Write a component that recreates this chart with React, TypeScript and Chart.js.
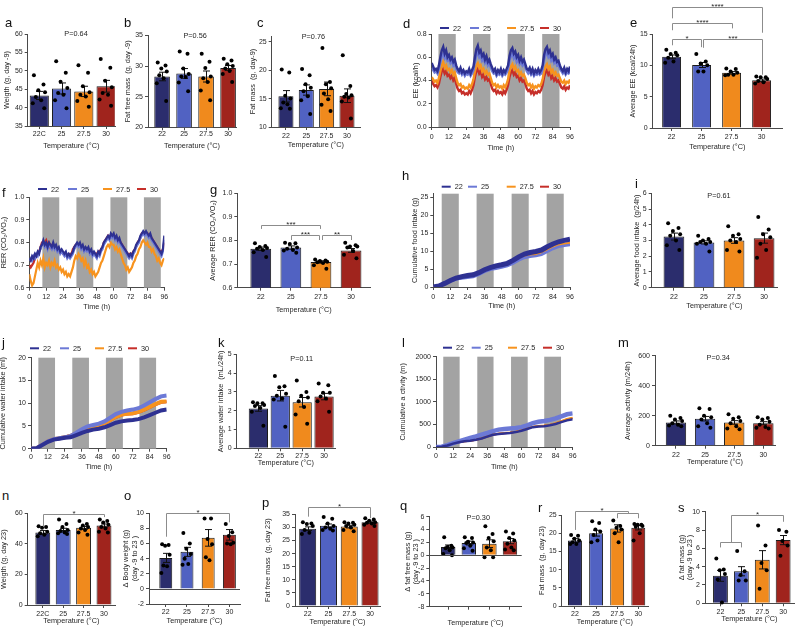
import React, { useEffect, useRef } from 'react';
import { Chart, registerables } from 'chart.js';

Chart.register(...registerables);

const FONT = '"Liberation Sans", Arial, Helvetica, sans-serif';
const TICK_SIZE = 7;
const TITLE_SIZE = 7.3;
const TL = TITLE_SIZE * 1.2;
const TICK_LH = TICK_SIZE * 1.2;
const AXIS = '#4a4a4a';
const TEXT = '#262626';
const BRACKET = '#8c8c8c';
const DARK = '#a3a3a3';

const TEMPS = ['22', '25', '27.5', '30'];
const TEMPS_C = ['22C', '25', '27.5', '30'];
const NO_LABELS = ['', '', '', ''];
const SERIES = ['22', '25', '27.5', '30'];
const BAR_COLORS = ['#2b2d6d', '#5162c2', '#f08a1d', '#a0241d'];
const LINE_COLORS = ['#2e3192', '#6c79d6', '#f7931e', '#c62f2a'];
const HOUR_TICKS = [0, 12, 24, 36, 48, 60, 72, 84, 96];
const JIT = [-0.28, 0.22, -0.05, 0.3, -0.18, 0.1, -0.34, 0.26];

// ---------- a ----------
const aYTicks = [35, 40, 45, 50, 55, 60];
const aMean = [43.3, 45.2, 44.4, 45.8];
const aSem = [1.1, 1.5, 1.4, 1.6];
const aDots = [
  [48.8, 46.3, 44.7, 44.2, 42.9, 42.0, 41.2, 39.8],
  [52.6, 49.5, 47.0, 45.3, 44.0, 43.5, 42.0, 39.8],
  [51.5, 49.5, 45.8, 44.2, 43.5, 43.0, 41.8, 40.2],
  [53.2, 50.8, 47.3, 45.5, 44.0, 43.5, 42.2, 40.5],
];
// ---------- b ----------
const bYTicks = [20, 25, 30, 35];
const bMean = [28.3, 28.8, 28.3, 29.7];
const bSem = [0.7, 0.8, 0.9, 0.4];
const bDots = [
  [30.6, 30.1, 29.6, 29.1, 28.5, 28.0, 27.2, 24.3],
  [32.4, 32.0, 29.6, 28.7, 28.3, 28.2, 27.3, 25.9],
  [32.0, 30.7, 29.7, 28.3, 28.0, 27.4, 26.0, 24.4],
  [31.2, 30.9, 30.3, 30.0, 29.6, 29.2, 28.7, 27.4],
];
// ---------- c ----------
const cYTicks = [10, 15, 20, 25];
const cMean = [15.4, 16.5, 16.7, 15.5];
const cSem = [1.0, 0.9, 1.2, 1.2];
const cDots = [
  [20.1, 19.6, 15.5, 15.0, 14.3, 14.0, 13.3, 13.2],
  [20.2, 19.1, 17.5, 16.9, 16.3, 15.4, 14.7, 12.3],
  [23.9, 17.9, 17.5, 16.8, 15.9, 14.9, 13.9, 12.8],
  [22.6, 17.2, 15.8, 15.6, 15.3, 15.2, 14.5, 11.5],
];
// ---------- d (EE, hourly) ----------
const dYTicks = [0, 0.2, 0.4, 0.6, 0.8];
const dDark = [[4.7, 16.7], [28.7, 40.7], [52.7, 64.7], [76.7, 88.7]];
const dEE22 = [0.55,0.52,0.49,0.50,0.48,0.53,0.60,0.66,0.69,0.63,0.66,0.60,0.62,0.58,0.60,0.56,0.58,0.53,0.50,0.48,0.51,0.47,0.49,0.46,0.48,0.47,0.50,0.46,0.49,0.52,0.60,0.67,0.70,0.64,0.66,0.61,0.63,0.58,0.61,0.56,0.58,0.54,0.51,0.48,0.50,0.46,0.49,0.47,0.50,0.46,0.49,0.47,0.50,0.53,0.61,0.66,0.68,0.63,0.65,0.60,0.62,0.57,0.60,0.56,0.58,0.54,0.50,0.49,0.51,0.47,0.50,0.46,0.49,0.47,0.50,0.47,0.49,0.53,0.62,0.67,0.69,0.64,0.66,0.61,0.63,0.58,0.60,0.56,0.57,0.53,0.50,0.48,0.51,0.47,0.50,0.48,0.52];
const dEE25 = [0.51,0.49,0.47,0.48,0.46,0.50,0.56,0.61,0.63,0.59,0.61,0.57,0.58,0.55,0.57,0.53,0.55,0.50,0.47,0.46,0.48,0.45,0.47,0.44,0.46,0.45,0.47,0.44,0.46,0.49,0.56,0.62,0.64,0.60,0.62,0.57,0.59,0.55,0.57,0.53,0.55,0.51,0.48,0.46,0.47,0.44,0.46,0.45,0.47,0.44,0.46,0.45,0.47,0.50,0.57,0.61,0.63,0.59,0.61,0.56,0.58,0.54,0.56,0.53,0.55,0.51,0.48,0.46,0.48,0.45,0.47,0.44,0.46,0.45,0.47,0.45,0.46,0.50,0.58,0.62,0.64,0.60,0.62,0.57,0.59,0.55,0.57,0.53,0.54,0.50,0.48,0.46,0.48,0.45,0.47,0.46,0.48];
const dEE275 = [0.43,0.41,0.39,0.40,0.38,0.42,0.48,0.53,0.56,0.51,0.53,0.49,0.50,0.47,0.49,0.45,0.47,0.42,0.38,0.36,0.37,0.34,0.35,0.33,0.34,0.33,0.36,0.34,0.37,0.41,0.48,0.53,0.55,0.51,0.53,0.48,0.50,0.46,0.48,0.45,0.46,0.42,0.38,0.36,0.37,0.34,0.36,0.34,0.35,0.33,0.36,0.34,0.37,0.41,0.48,0.52,0.54,0.50,0.52,0.48,0.49,0.45,0.47,0.44,0.45,0.42,0.38,0.36,0.37,0.34,0.36,0.33,0.35,0.34,0.36,0.35,0.37,0.41,0.48,0.52,0.54,0.50,0.52,0.47,0.49,0.45,0.47,0.44,0.45,0.42,0.39,0.38,0.40,0.37,0.39,0.38,0.41];
const dEE30 = [0.40,0.37,0.35,0.36,0.34,0.37,0.43,0.48,0.50,0.46,0.48,0.44,0.45,0.42,0.44,0.40,0.42,0.37,0.33,0.31,0.32,0.29,0.30,0.28,0.29,0.28,0.31,0.29,0.32,0.36,0.43,0.48,0.50,0.46,0.48,0.43,0.45,0.41,0.43,0.40,0.41,0.37,0.33,0.31,0.32,0.29,0.31,0.29,0.30,0.28,0.31,0.29,0.32,0.36,0.43,0.47,0.49,0.45,0.47,0.43,0.44,0.40,0.42,0.39,0.40,0.37,0.33,0.31,0.32,0.29,0.31,0.28,0.30,0.29,0.31,0.30,0.32,0.36,0.43,0.47,0.49,0.45,0.47,0.42,0.44,0.40,0.42,0.39,0.40,0.37,0.34,0.33,0.35,0.32,0.34,0.33,0.36];
// ---------- e ----------
const eYTicks = [0, 5, 10, 15];
const eMean = [11.35, 10.05, 8.8, 7.6];
const eSem = [0.3, 0.4, 0.2, 0.2];
const eDots = [
  [12.5, 12.0, 11.8, 11.6, 11.2, 10.6, 10.4],
  [11.8, 10.6, 10.3, 10.0, 9.0, 9.0],
  [9.5, 9.4, 9.0, 8.8, 8.5, 8.5, 8.4],
  [8.2, 8.1, 8.1, 7.8, 7.5, 7.3, 7.1],
];
const eBrackets = [
  [0, 3, 19.3, 17.5, 15.2, '****'],
  [0, 2, 16.75, 15.6, 15.9, '****'],
  [0, 0.97, 14.2, 13.2, 12.9, '*'],
  [1.03, 3, 14.2, 12.8, 8.5, '***'],
];
// ---------- f (RER, hourly) ----------
const fYTicks = [0.6, 0.7, 0.8, 0.9, 1.0];
const fDark = [[9.3, 21.3], [33.5, 45.5], [57.7, 69.7], [81.5, 93.5]];
const fRER22 = [0.73,0.72,0.74,0.73,0.75,0.74,0.76,0.75,0.78,0.79,0.81,0.79,0.80,0.78,0.80,0.79,0.78,0.80,0.78,0.79,0.77,0.78,0.76,0.77,0.76,0.75,0.76,0.74,0.75,0.74,0.75,0.76,0.78,0.79,0.80,0.79,0.80,0.78,0.79,0.77,0.78,0.77,0.78,0.76,0.77,0.75,0.76,0.75,0.74,0.76,0.75,0.77,0.78,0.80,0.81,0.82,0.83,0.82,0.84,0.83,0.84,0.82,0.83,0.81,0.82,0.80,0.79,0.78,0.77,0.76,0.75,0.74,0.75,0.74,0.76,0.77,0.79,0.80,0.81,0.83,0.84,0.85,0.84,0.85,0.84,0.83,0.84,0.82,0.81,0.80,0.79,0.78,0.77,0.76,0.75,0.77,0.83];
const fRER25 = [0.72,0.73,0.72,0.74,0.73,0.75,0.74,0.76,0.77,0.79,0.80,0.78,0.79,0.77,0.79,0.78,0.77,0.79,0.77,0.78,0.76,0.77,0.75,0.76,0.75,0.74,0.75,0.73,0.74,0.73,0.74,0.75,0.77,0.78,0.79,0.78,0.79,0.77,0.78,0.76,0.77,0.76,0.77,0.75,0.76,0.74,0.75,0.74,0.73,0.75,0.74,0.76,0.77,0.79,0.80,0.81,0.82,0.81,0.83,0.82,0.83,0.81,0.82,0.80,0.81,0.79,0.78,0.77,0.76,0.75,0.74,0.73,0.74,0.73,0.75,0.76,0.78,0.79,0.80,0.82,0.83,0.84,0.83,0.84,0.83,0.82,0.83,0.81,0.80,0.79,0.78,0.77,0.76,0.75,0.74,0.76,0.81];
const fRER275 = [0.66,0.63,0.61,0.62,0.65,0.68,0.71,0.69,0.72,0.70,0.73,0.69,0.71,0.70,0.72,0.69,0.71,0.70,0.72,0.69,0.70,0.68,0.69,0.67,0.68,0.66,0.67,0.65,0.66,0.65,0.67,0.69,0.72,0.74,0.73,0.75,0.74,0.72,0.73,0.70,0.72,0.69,0.70,0.67,0.68,0.66,0.67,0.65,0.66,0.67,0.69,0.71,0.72,0.74,0.76,0.78,0.79,0.78,0.80,0.79,0.79,0.77,0.78,0.76,0.77,0.75,0.73,0.71,0.70,0.68,0.69,0.67,0.68,0.69,0.71,0.72,0.74,0.75,0.77,0.78,0.80,0.81,0.80,0.79,0.80,0.78,0.78,0.76,0.77,0.75,0.74,0.72,0.73,0.71,0.70,0.72,0.73];
const fRER30 = [0.70,0.69,0.70,0.71,0.73,0.74,0.75,0.76,0.78,0.80,0.80,0.80,0.81,0.79,0.80,0.78,0.79,0.79,0.78,0.78,0.77,0.77,0.76,0.76,0.75,0.75,0.75,0.74,0.74,0.75,0.75,0.77,0.78,0.79,0.79,0.79,0.79,0.78,0.78,0.77,0.77,0.77,0.77,0.76,0.76,0.75,0.75,0.75,0.75,0.76,0.76,0.77,0.78,0.80,0.81,0.82,0.83,0.82,0.83,0.83,0.83,0.82,0.82,0.81,0.81,0.80,0.79,0.78,0.77,0.76,0.75,0.75,0.75,0.75,0.76,0.77,0.78,0.80,0.81,0.82,0.84,0.84,0.84,0.84,0.84,0.83,0.83,0.82,0.81,0.80,0.79,0.78,0.77,0.76,0.76,0.77,0.80];
// ---------- g ----------
const gYTicks = [0.6, 0.7, 0.8, 0.9, 1.0];
const gMean = [0.765, 0.770, 0.709, 0.758];
const gSem = [0.007, 0.007, 0.005, 0.008];
const gDots = [
  [0.788, 0.777, 0.772, 0.768, 0.765, 0.760, 0.750, 0.730],
  [0.790, 0.788, 0.785, 0.770, 0.765, 0.760, 0.758, 0.748],
  [0.720, 0.715, 0.713, 0.710, 0.708, 0.705, 0.695, 0.680],
  [0.790, 0.780, 0.775, 0.775, 0.770, 0.755, 0.740, 0.725],
];
const gBrackets = [
  [0, 1.97, 0.864, 0.849, 0.849, '***'],
  [1, 1.93, 0.823, 0.802, 0.802, '***'],
  [2.03, 3, 0.823, 0.802, 0.802, '**'],
];
// ---------- h (food, every 4 h) ----------
const hYTicks = [0, 5, 10, 15, 20, 25];
const hDark = [[5.9, 17.9], [30.4, 42.4], [55, 67], [79.6, 91.6]];
const hFood22 = [0,0.3,1.0,1.8,2.5,2.9,3.2,3.4,4.0,4.8,5.4,5.9,6.2,6.6,7.4,8.4,9.2,9.6,9.9,10.3,11.2,12.0,12.6,13.0,13.3];
const hFood25 = [0,0.2,0.8,1.5,2.1,2.4,2.6,2.8,3.4,4.2,4.8,5.1,5.4,5.8,6.5,7.4,8.1,8.4,8.6,9.0,9.8,10.6,11.2,11.5,11.7];
const hFood275 = [0,0.3,1.0,1.8,2.4,2.7,2.9,3.1,3.8,4.5,5.1,5.5,5.8,6.2,6.9,7.9,8.6,8.9,9.1,9.5,10.3,11.1,11.7,12.0,12.2];
const hFood30 = [0,0.3,1.0,1.7,2.3,2.6,2.8,3.0,3.7,4.4,5.0,5.4,5.7,6.1,6.8,7.8,8.5,8.8,9.0,9.4,10.2,11.0,11.6,11.9,12.1];
// ---------- i ----------
const iYTicks = [0, 1, 2, 3, 4, 5, 6];
const iMean = [3.25, 2.88, 3.0, 3.15];
const iSem = [0.22, 0.1, 0.18, 0.32];
const iDots = [
  [4.1, 3.8, 3.6, 3.4, 3.3, 3.0, 2.7, 2.4],
  [3.3, 3.1, 3.0, 2.9, 2.9, 2.8, 2.8, 2.3],
  [3.9, 3.4, 3.3, 3.1, 3.0, 2.9, 2.4, 2.3],
  [4.5, 3.7, 3.4, 3.2, 2.8, 2.4, 1.9],
];
// ---------- j (water, every 4 h) ----------
const jYTicks = [0, 5, 10, 15, 20];
const jDark = [[5.2, 17], [29.2, 41], [53, 65], [76.7, 88.5]];
const jWater22 = [0,0.1,0.8,1.5,2.0,2.2,2.4,2.5,3.0,3.5,3.9,4.2,4.4,4.7,5.2,5.7,6.0,6.2,6.3,6.5,6.9,7.4,7.9,8.4,8.6];
const jWater25 = [0,0.1,0.9,1.6,2.1,2.3,2.5,2.8,3.5,4.3,4.9,5.2,5.5,6.0,6.8,7.6,8.1,8.4,8.6,8.9,9.5,10.2,10.9,11.5,11.7];
const jWater275 = [0,0.1,0.9,1.6,2.1,2.3,2.5,2.8,3.4,4.1,4.6,4.9,5.2,5.6,6.3,7.0,7.5,7.7,7.8,8.1,8.6,9.2,9.8,10.3,10.4];
const jWater30 = [0,0.1,0.9,1.6,2.1,2.3,2.6,2.9,3.4,4.0,4.5,4.8,5.1,5.5,6.2,6.9,7.4,7.6,7.7,8.0,8.5,9.1,9.7,10.2,10.3];
// ---------- k ----------
const kYTicks = [0, 1, 2, 3, 4, 5];
const kMean = [2.12, 2.8, 2.45, 2.75];
const kSem = [0.15, 0.28, 0.25, 0.17];
const kDots = [
  [2.45, 2.4, 2.4, 2.3, 2.25, 2.15, 1.95, 1.2],
  [3.85, 3.3, 3.25, 2.9, 2.8, 2.65, 2.6, 1.15],
  [3.6, 3.0, 2.8, 2.7, 2.5, 2.2, 1.8, 1.3],
  [3.45, 3.35, 2.95, 2.95, 2.75, 2.65, 2.5, 1.95],
];
// ---------- l (activity, every 4 h) ----------
const lYTicks = [0, 500, 1000, 1500, 2000];
const lDark = [[5.1, 16.6], [29, 40.4], [52.7, 64.4], [76, 87.8]];
const lAct22 = [0,5,35,75,105,125,140,160,190,230,270,290,300,310,330,360,400,440,455,460,480,510,550,590,615];
const lAct25 = [0,5,40,85,125,165,200,235,275,310,350,385,400,410,420,440,480,530,560,575,600,635,680,725,745];
const lAct275 = [0,5,35,75,105,125,140,160,195,235,275,295,310,320,340,375,415,450,465,475,495,525,570,620,650];
const lAct30 = [0,5,35,75,105,125,140,160,190,232,272,292,305,315,335,370,410,445,460,470,490,520,565,610,640];
// ---------- m ----------
const mYTicks = [0, 200, 400, 600];
const mMean = [155, 180, 155, 150];
const mSem = [10, 15, 12, 10];
const mDots = [
  [200, 185, 175, 165, 150, 140, 135, 130],
  [250, 245, 200, 190, 175, 150, 130, 120],
  [210, 190, 180, 165, 150, 130, 115, 110],
  [190, 185, 175, 160, 140, 125, 120, 115],
];
// ---------- n ----------
const nYTicks = [0, 20, 40, 60];
const nMean = [47.5, 49, 50.5, 52];
const nSem = [1.2, 1.2, 0.9, 1.0];
const nDots = [
  [51.5, 51, 50.5, 48, 47, 46, 45],
  [56, 53, 51, 49, 48.5, 47.5, 47, 46.5],
  [55, 53, 52, 51, 50, 49, 47.5, 46],
  [56, 55, 54, 52.5, 51, 50, 48, 47.5],
];
const nBrackets = [[0, 3, 59.5, 51.5, 57.5, '*']];
// ---------- o ----------
const oYTicks = [-2, 0, 2, 4, 6, 8, 10];
const oMean = [4.1, 4.9, 6.75, 7.15];
const oSem = [0.6, 0.6, 1.1, 0.7];
const oDots = [
  [5.9, 5.8, 5.7, 4.5, 3.1, 3.0, 2.1],
  [7.4, 6.0, 5.3, 4.6, 4.0, 3.3, 3.2],
  [9.3, 9.3, 6.6, 5.9, 4.2, 3.8],
  [8.6, 7.5, 7.0, 6.1, 6.0, 5.9],
];
const oBrackets = [[0, 3, 10.1, 6.9, 8.8, '*']];
// ---------- p ----------
const pYTicks = [0, 5, 10, 15, 20, 25, 30, 35];
const pMean = [29.5, 30.6, 30.3, 32.0];
const pSem = [0.7, 0.7, 0.5, 0.4];
const pDots = [
  [32, 31.5, 31.3, 30.5, 29, 28, 27.5],
  [34, 33.3, 31.5, 30.5, 30, 29.5, 29, 28.8],
  [32, 31.8, 31.5, 31, 30.5, 30, 29, 28.5],
  [33.5, 33, 32.5, 32, 31.8, 31.5, 31, 30.5],
];
const pBrackets = [[0, 3, 37.9, 34.1, 33.5, '*']];
// ---------- q ----------
const qYTicks = [-8, -6, -4, -2, 0, 2, 4, 6];
const qMean = [1.3, 1.9, 1.8, 2.2];
const qSem = [0.3, 0.3, 0.6, 0.4];
const qDots = [
  [2.8, 1.5, 1.3, 1.2, 1.1, 0.8, 0.2, 0.0],
  [2.8, 2.7, 2.1, 2.0, 1.9, 1.5, 1.1, 0.7],
  [4.5, 3.3, 2.7, 2.2, 1.2, 0.8, -0.3, -0.3],
  [3.7, 3.4, 2.7, 2.3, 1.8, 1.2, 0.9, 0.8],
];
// ---------- r ----------
const rYTicks = [0, 5, 10, 15, 20, 25];
const rMean = [18, 20, 21.3, 21.5];
const rSem = [0.5, 0.8, 1.0, 0.6];
const rDots = [
  [19.5, 19.3, 18.5, 18, 17.5, 17, 17],
  [23.3, 22.8, 21, 20.5, 19.5, 18, 17.5],
  [23.5, 22, 21.5, 21, 20, 17.5],
  [22.5, 22.3, 22.3, 22, 21.8, 20, 18],
];
const rBrackets = [[2, 3, 25.5, 24.1, 24.1, ''], [0, 2.5, 26.2, 20.9, 25.5, '*']];
// ---------- s ----------
const sYTicks = [0, 2, 4, 6, 8, 10];
const sMean = [3.0, 3.5, 4.75, 6.9];
const sSem = [0.6, 0.5, 1.0, 0.5];
const sDots = [
  [4.9, 3.7, 3.6, 3.2, 2.6, 0.1],
  [5.7, 3.5, 3.1, 2.5, 2.5],
  [8.5, 6.3, 4.4, 3.6, 1.6],
  [8.0, 7.8, 6.8, 6.3, 5.2],
];
const sBrackets = [[0, 1, 6.65, 6.1, 6.1, ''], [0.5, 3, 9.6, 6.65, 8.9, '*']];

const TEMP_T = 'Temperature (°C)';
const TIME_T = 'Time (h)';

const PANELS: any[] = [
  { kind: 'bar', letter: 'a', lx: 5, lb: 26.7, plot: [27.7, 34, 115, 126], padTop: 8, yTitle: 'Weigth (g, day -9)', yTitleX: 7, xTitle: TEMP_T, xTitleY: 145.5, xLabelY: 134, yMin: 35, yMax: 60, yTicks: aYTicks, xMin: -0.52, xMax: 3.4, barFrac: 0.86, cats: TEMPS_C, means: aMean, sem: aSem, dots: aDots, pText: [1.65, 60, 'P=0.64'] },
  { kind: 'bar', letter: 'b', lx: 124, lb: 27.3, plot: [148, 35.5, 236, 127.3], padTop: 8, yTitle: 'Fat free mass  (g, day -9)', yTitleX: 128, xTitle: TEMP_T, xTitleY: 145.5, xLabelY: 134, yMin: 20, yMax: 35, yTicks: bYTicks, xMin: -0.64, xMax: 3.36, barFrac: 0.71, cats: TEMPS, means: bMean, sem: bSem, dots: bDots, pText: [1.5, 35, 'P=0.56'] },
  { kind: 'bar', letter: 'c', lx: 257, lb: 26.7, plot: [271.7, 36, 360, 127], padTop: 8, yTitle: 'Fat mass  (g, day-9)', yTitleX: 252.5, xTitle: TEMP_T, xTitleY: 145, xLabelY: 135.7, yMin: 10, yMax: 26, yTicks: cYTicks, xMin: -0.7, xMax: 3.64, barFrac: 0.74, cats: TEMPS, means: cMean, sem: cSem, dots: cDots, pText: [1.35, 25.8, 'P=0.76'] },
  { kind: 'ts', letter: 'd', lx: 403, lb: 28.3, plot: [431.7, 34, 570, 127], padTop: 12, yTitle: 'EE (kcal/h)', yTitleX: 416, xTitle: TIME_T, xTitleY: 147.7, xLabelY: 136.7, yMin: 0, yMax: 0.8, yTicks: dYTicks, yDec: 1, step: 1, series: [dEE22, dEE25, dEE275, dEE30], lw: [2.4, 2.4, 2.4, 2.4], dark: dDark, legendY: 28, legendXs: [440, 470, 507, 540] },
  { kind: 'bar', letter: 'e', lx: 630, lb: 26.7, plot: [652.7, 34, 782, 128], padTop: 34, yTitle: 'Average EE (kcal/24h)', yTitleX: 632.7, xTitle: TEMP_T, xTitleY: 146.7, xLabelY: 136.7, yMin: 0, yMax: 15, yTicks: eYTicks, xMin: -0.63, xMax: 3.68, barFrac: 0.63, cats: TEMPS, means: eMean, sem: eSem, dots: eDots, brackets: eBrackets },
  { kind: 'ts', letter: 'f', lx: 2, lb: 196.7, plot: [29.3, 197.3, 164.3, 287.7], padTop: 14, yTitle: 'RER (CO₂/VO₂)', yTitleX: 4, xTitle: TIME_T, xTitleY: 306.7, xLabelY: 296.7, yMin: 0.6, yMax: 1.0, yTicks: fYTicks, yDec: 1, step: 1, series: [fRER22, fRER25, fRER275, fRER30], lw: [2.2, 2.2, 2.2, 2.2], dark: fDark, legendY: 189, legendXs: [38, 68, 103, 137] },
  { kind: 'bar', letter: 'g', lx: 210, lb: 194.3, plot: [237.3, 193.3, 370, 287.7], padTop: 8, yTitle: 'Average RER (CO₂/VO₂)', yTitleX: 213, xTitle: TEMP_T, xTitleY: 310, xLabelY: 296.7, yMin: 0.6, yMax: 1.0, yTicks: gYTicks, yDec: 1, xMin: -0.78, xMax: 3.63, barFrac: 0.69, cats: TEMPS, means: gMean, sem: gSem, dots: gDots, brackets: gBrackets },
  { kind: 'ts', letter: 'h', lx: 402, lb: 180, plot: [433.3, 193.7, 570, 287], padTop: 13, yTitle: 'Cumulative food intake (g)', yTitleX: 415, xTitle: TIME_T, xTitleY: 306, xLabelY: 296.7, yMin: 0, yMax: 26, yTicks: hYTicks, step: 4, series: [hFood22, hFood25, hFood275, hFood30], lw: [5, 2.5, 2.5, 2.5], dark: hDark, legendY: 186.7, legendXs: [441.7, 468, 506.7, 540] },
  { kind: 'bar', letter: 'i', lx: 635, lb: 188.3, plot: [651.7, 193.3, 777, 287.7], padTop: 8, yTitle: 'Average food intake  (g/24h)', yTitleX: 637.3, xTitle: TEMP_T, xTitleY: 306, xLabelY: 296.7, yMin: 0, yMax: 6, yTicks: iYTicks, xMin: -0.74, xMax: 3.43, barFrac: 0.69, cats: TEMPS, means: iMean, sem: iSem, dots: iDots, pText: [1.5, 5.8, 'P=0.61'] },
  { kind: 'ts', letter: 'j', lx: 2, lb: 347, plot: [31, 357.7, 166.7, 448.7], padTop: 15, yTitle: 'Cumulative water intake (ml)', yTitleX: 3.3, xTitle: TIME_T, xTitleY: 467, xLabelY: 456.7, yMin: 0, yMax: 20, yTicks: jYTicks, step: 4, series: [jWater22, jWater25, jWater275, jWater30], lw: [4, 4, 4, 3], dark: jDark, legendY: 348.3, legendXs: [30, 60, 95, 128] },
  { kind: 'bar', letter: 'k', lx: 218, lb: 346.7, plot: [236.7, 354.3, 335, 448.3], padTop: 8, yTitle: 'Average water intake  (mL/24h)', yTitleX: 220.7, xTitle: TEMP_T, xTitleY: 463.3, xLabelY: 456, yMin: 0, yMax: 5, yTicks: kYTicks, xMin: -0.99, xMax: 3.5, barFrac: 0.88, cats: TEMPS, means: kMean, sem: kSem, dots: kDots, pText: [1.98, 4.75, 'P=0.11'] },
  { kind: 'ts', letter: 'l', lx: 402, lb: 346.7, plot: [436, 356.7, 572.7, 447], padTop: 15, yTitle: 'Culmulative a ctivity (m)', yTitleX: 402.5, xTitle: TIME_T, xTitleY: 466.7, xLabelY: 456, yMin: 0, yMax: 2000, yTicks: lYTicks, step: 4, series: [lAct22, lAct25, lAct275, lAct30], lw: [2.5, 4.5, 2, 2], dark: lDark, legendY: 347.7, legendXs: [443, 471.7, 508, 543] },
  { kind: 'bar', letter: 'm', lx: 618, lb: 346.7, plot: [655, 355.7, 775, 445.7], padTop: 8, yTitle: 'Average activity (m/24h)', yTitleX: 627.7, xTitle: TEMP_T, xTitleY: 461.7, xLabelY: 455, yMin: 0, yMax: 600, yTicks: mYTicks, xMin: -0.72, xMax: 3.4, barFrac: 0.7, cats: TEMPS, means: mMean, sem: mSem, dots: mDots, pText: [1.45, 583, 'P=0.34'] },
  { kind: 'bar', letter: 'n', lx: 2, lb: 500, plot: [27.7, 513.3, 115, 605], padTop: 10, yTitle: 'Weigth (g, day 23)', yTitleX: 4, xTitle: TEMP_T, xTitleY: 621, xLabelY: 614, yMin: 0, yMax: 60, yTicks: nYTicks, xMin: -0.74, xMax: 3.54, barFrac: 0.73, cats: TEMPS_C, means: nMean, sem: nSem, dots: nDots, brackets: nBrackets },
  { kind: 'bar', letter: 'o', lx: 124, lb: 500, plot: [149, 513.3, 240, 604], padTop: 10, yTitle: ['Δ Body weight (g)', '(day -9 to 23 )'], yTitleX: 126, xTitle: TEMP_T, xTitleY: 621, xLabelY: 611.7, yMin: -2, yMax: 10, yTicks: oYTicks, xMin: -0.79, xMax: 3.5, barFrac: 0.61, cats: TEMPS, means: oMean, sem: oSem, dots: oDots, brackets: oBrackets, zeroLine: true },
  { kind: 'bar', letter: 'p', lx: 262, lb: 507, plot: [295, 514.3, 380, 606], padTop: 16, yTitle: 'Fat free mass  (g, day 23)', yTitleX: 268.3, xTitle: TEMP_T, xTitleY: 621.7, xLabelY: 614, yMin: 0, yMax: 35, yTicks: pYTicks, xMin: -0.61, xMax: 3.48, barFrac: 0.82, cats: TEMPS, means: pMean, sem: pSem, dots: pDots, brackets: pBrackets },
  { kind: 'bar', letter: 'q', lx: 400, lb: 510.3, plot: [429.3, 516.7, 521.7, 606.7], padTop: 8, yTitle: ['Δ fat free mass (g)', '(day -9 to 23 )'], yTitleX: 407.5, xTitle: TEMP_T, xTitleY: 623.3, xLabelY: 615, yMin: -8, yMax: 6, yTicks: qYTicks, xMin: -0.92, xMax: 3.57, barFrac: 0.7, cats: NO_LABELS, means: qMean, sem: qSem, dots: qDots, pText: [1.46, 5.75, 'P=0.30'], zeroLine: true },
  { kind: 'bar', letter: 'r', lx: 538, lb: 511.7, plot: [561.7, 515, 648, 606], padTop: 14, yTitle: 'Fat mass  (g, day 23)', yTitleX: 541.7, xTitle: TEMP_T, xTitleY: 621.7, xLabelY: 614, yMin: 0, yMax: 25, yTicks: rYTicks, xMin: -0.63, xMax: 3.46, barFrac: 0.66, cats: TEMPS, means: rMean, sem: rSem, dots: rDots, brackets: rBrackets },
  { kind: 'bar', letter: 's', lx: 678, lb: 511.7, plot: [705, 511.7, 795, 603.3], padTop: 10, padRight: 3, yTitle: ['Δ fat mass (g)', '(day -9 to 23 )'], yTitleX: 681.7, xTitle: TEMP_T, xTitleY: 619.3, xLabelY: 611.7, yMin: 0, yMax: 10, yTicks: sYTicks, xMin: -0.74, xMax: 3.52, barFrac: 0.71, cats: TEMPS, means: sMean, sem: sSem, dots: sDots, brackets: sBrackets },
];

function geom(s: any) {
  const [pl, pt, pr, pb] = s.plot;
  const left = Math.floor(s.yTitleX - TL / 2 - 1);
  const top = Math.floor(pt - s.padTop);
  const right = Math.ceil(pr + (s.padRight ?? 7));
  const bottom = Math.ceil(s.xTitleY + TL / 2 + 0.5);
  return {
    left, top, width: right - left, height: bottom - top,
    yW: pl - left, xH: bottom - pb, padTop: pt - top, padRight: right - pr,
    yTitlePad: s.yTitleX - left - TL / 2,
    xTitlePad: Math.max(0, bottom - s.xTitleY - TL / 2),
    xTickPad: Math.max(0, s.xLabelY - pb - 3 - TICK_LH / 2),
  };
}

const tickFont = { family: FONT, size: TICK_SIZE };
const titleFont = { family: FONT, size: TITLE_SIZE };

function axisCommon() {
  return {
    grid: { display: true, offset: false, drawOnChartArea: false, drawTicks: true, tickLength: 3, color: AXIS, lineWidth: 1 },
    border: { display: true, color: AXIS, width: 1 },
  };
}

function yAxis(s: any, g: any) {
  return {
    type: 'linear', min: s.yMin, max: s.yMax,
    afterBuildTicks: (sc: any) => { sc.ticks = s.yTicks.map((v: number) => ({ value: v })); },
    afterFit: (sc: any) => { sc.width = g.yW; },
    ticks: { font: tickFont, color: TEXT, padding: 2, callback: (v: any) => (s.yDec ? Number(v).toFixed(s.yDec) : String(v)) },
    ...axisCommon(),
    title: { display: true, text: s.yTitle, font: titleFont, color: TEXT, padding: { top: g.yTitlePad, bottom: 0 } },
  };
}

function xAxis(s: any, g: any, min: number, max: number, tickVals: number[], label: (v: number) => string) {
  return {
    type: 'linear', min, max, offset: false,
    afterBuildTicks: (sc: any) => { sc.ticks = tickVals.map((v) => ({ value: v })); },
    afterFit: (sc: any) => { sc.height = g.xH; },
    ticks: { font: tickFont, color: TEXT, padding: g.xTickPad, maxRotation: 0, minRotation: 0, autoSkip: false, callback: (v: any) => label(Number(v)) },
    ...axisCommon(),
    title: { display: true, text: s.xTitle, font: titleFont, color: TEXT, padding: { top: 0, bottom: g.xTitlePad } },
  };
}

function baseOptions(g: any, x: any, y: any) {
  return {
    animation: false, responsive: false, maintainAspectRatio: false, devicePixelRatio: 1, events: [],
    layout: { padding: { left: 0, top: g.padTop, right: g.padRight, bottom: 0 } },
    plugins: { legend: { display: false }, tooltip: { enabled: false }, title: { display: false } },
    scales: { x, y },
  };
}

function barPlugin(s: any) {
  return {
    id: 'barExtras',
    afterDatasetDraw(chart: any, args: any) {
      if (args.index !== 1) return;
      const ctx = chart.ctx; const xs = chart.scales.x; const ys = chart.scales.y;
      ctx.save();
      ctx.strokeStyle = '#111'; ctx.lineWidth = 1;
      s.means.forEach((m: number, i: number) => {
        const x = Math.round(xs.getPixelForValue(i)) + 0.5;
        const y1 = ys.getPixelForValue(m + s.sem[i]);
        const y0 = ys.getPixelForValue(m - s.sem[i]);
        ctx.beginPath();
        ctx.moveTo(x, y0); ctx.lineTo(x, y1);
        ctx.moveTo(x - 3.5, y1); ctx.lineTo(x + 3.5, y1);
        ctx.moveTo(x - 3.5, y0); ctx.lineTo(x + 3.5, y0);
        ctx.stroke();
      });
      ctx.restore();
    },
    afterDraw(chart: any) {
      const ctx = chart.ctx; const xs = chart.scales.x; const ys = chart.scales.y; const ca = chart.chartArea;
      ctx.save();
      if (s.zeroLine) {
        const y0 = Math.round(ys.getPixelForValue(0)) + 0.5;
        ctx.strokeStyle = AXIS; ctx.lineWidth = 1;
        ctx.beginPath(); ctx.moveTo(ca.left, y0); ctx.lineTo(ca.right, y0); ctx.stroke();
      }
      (s.brackets || []).forEach((b: any) => {
        const [x1, x2, yl, e1, e2, label] = b;
        const px1 = Math.round(xs.getPixelForValue(x1)) + 0.5;
        const px2 = Math.round(xs.getPixelForValue(x2)) + 0.5;
        const py = Math.round(ys.getPixelForValue(yl)) + 0.5;
        ctx.strokeStyle = BRACKET; ctx.lineWidth = 1;
        ctx.beginPath();
        ctx.moveTo(px1, ys.getPixelForValue(e1)); ctx.lineTo(px1, py); ctx.lineTo(px2, py); ctx.lineTo(px2, ys.getPixelForValue(e2));
        ctx.stroke();
        if (label) {
          ctx.fillStyle = TEXT; ctx.font = `8px ${FONT}`; ctx.textAlign = 'center'; ctx.textBaseline = 'alphabetic';
          ctx.fillText(label, (px1 + px2) / 2, py + 1);
        }
      });
      if (s.pText) {
        const [px, py, t] = s.pText;
        ctx.fillStyle = TEXT; ctx.font = `${TITLE_SIZE}px ${FONT}`; ctx.textAlign = 'center'; ctx.textBaseline = 'middle';
        ctx.fillText(t, xs.getPixelForValue(px), ys.getPixelForValue(py));
      }
      ctx.restore();
    },
  };
}

function tsPlugin(s: any, g: any) {
  return {
    id: 'tsExtras',
    beforeDatasetsDraw(chart: any) {
      const ctx = chart.ctx; const xs = chart.scales.x; const ca = chart.chartArea;
      ctx.save(); ctx.fillStyle = DARK;
      s.dark.forEach(([a, b]: number[]) => {
        const x0 = xs.getPixelForValue(a); const x1 = xs.getPixelForValue(b);
        ctx.fillRect(x0, ca.top, x1 - x0, ca.bottom - ca.top);
      });
      ctx.restore();
    },
    afterDraw(chart: any) {
      const ctx = chart.ctx;
      ctx.save();
      SERIES.forEach((lab, k) => {
        const x = s.legendXs[k] - g.left; const y = s.legendY - g.top;
        ctx.strokeStyle = LINE_COLORS[k]; ctx.lineWidth = 2;
        ctx.beginPath(); ctx.moveTo(x, y); ctx.lineTo(x + 9, y); ctx.stroke();
        ctx.fillStyle = TEXT; ctx.font = `${TITLE_SIZE}px ${FONT}`; ctx.textAlign = 'left'; ctx.textBaseline = 'middle';
        ctx.fillText(lab, x + 13, y + 0.5);
      });
      ctx.restore();
    },
  };
}

function buildConfig(s: any, g: any) {
  const y = yAxis(s, g);
  if (s.kind === 'bar') {
    const pts: any[] = [];
    s.dots.forEach((arr: number[], i: number) => arr.forEach((v, k) => pts.push({ x: i + JIT[k % JIT.length] * s.barFrac, y: v })));
    const x = xAxis(s, g, s.xMin, s.xMax, s.cats.map((_: any, i: number) => i), (v) => s.cats[Math.round(v)] ?? '');
    return {
      type: 'bar',
      data: {
        datasets: [
          { type: 'scatter', data: pts, order: 0, pointRadius: 2, backgroundColor: '#000', borderWidth: 0, clip: false },
          { type: 'bar', data: s.means.map((v: number, i: number) => ({ x: i, y: v })), order: 1, backgroundColor: BAR_COLORS, borderColor: '#1b1b1b', borderWidth: 1, barPercentage: s.barFrac, categoryPercentage: 1 },
        ],
      },
      options: baseOptions(g, x, y),
      plugins: [barPlugin(s)],
    };
  }
  const x = xAxis(s, g, 0, 96, HOUR_TICKS, (v) => String(v));
  return {
    type: 'line',
    data: {
      datasets: s.series.map((arr: number[], k: number) => ({
        label: SERIES[k],
        data: arr.map((v, i) => ({ x: i * s.step, y: v })),
        borderColor: LINE_COLORS[k], borderWidth: s.lw[k], pointRadius: 0, tension: 0, fill: false,
      })),
    },
    options: baseOptions(g, x, y),
    plugins: [tsPlugin(s, g)],
  };
}

function Panel({ spec }: { spec: any }) {
  const ref = useRef<HTMLCanvasElement | null>(null);
  const g = geom(spec);
  useEffect(() => {
    if (!ref.current) return;
    const chart = new Chart(ref.current, buildConfig(spec, g) as any);
    return () => chart.destroy();
  }, []);
  return (
    <canvas
      ref={ref}
      width={g.width}
      height={g.height}
      style={{ position: 'absolute', left: g.left, top: g.top, width: g.width, height: g.height }}
    />
  );
}

export default function App() {
  return (
    <div style={{ position: 'fixed', left: 0, top: 0, width: 799, height: 627, background: '#fff', overflow: 'hidden' }}>
      {PANELS.map((p) => <Panel key={p.letter} spec={p} />)}
      {PANELS.map((p) => (
        <div
          key={'L' + p.letter}
          style={{ position: 'absolute', left: p.lx, top: p.lb - 11, fontFamily: FONT, fontSize: 13, lineHeight: '13px', color: '#111' }}
        >
          {p.letter}
        </div>
      ))}
    </div>
  );
}
